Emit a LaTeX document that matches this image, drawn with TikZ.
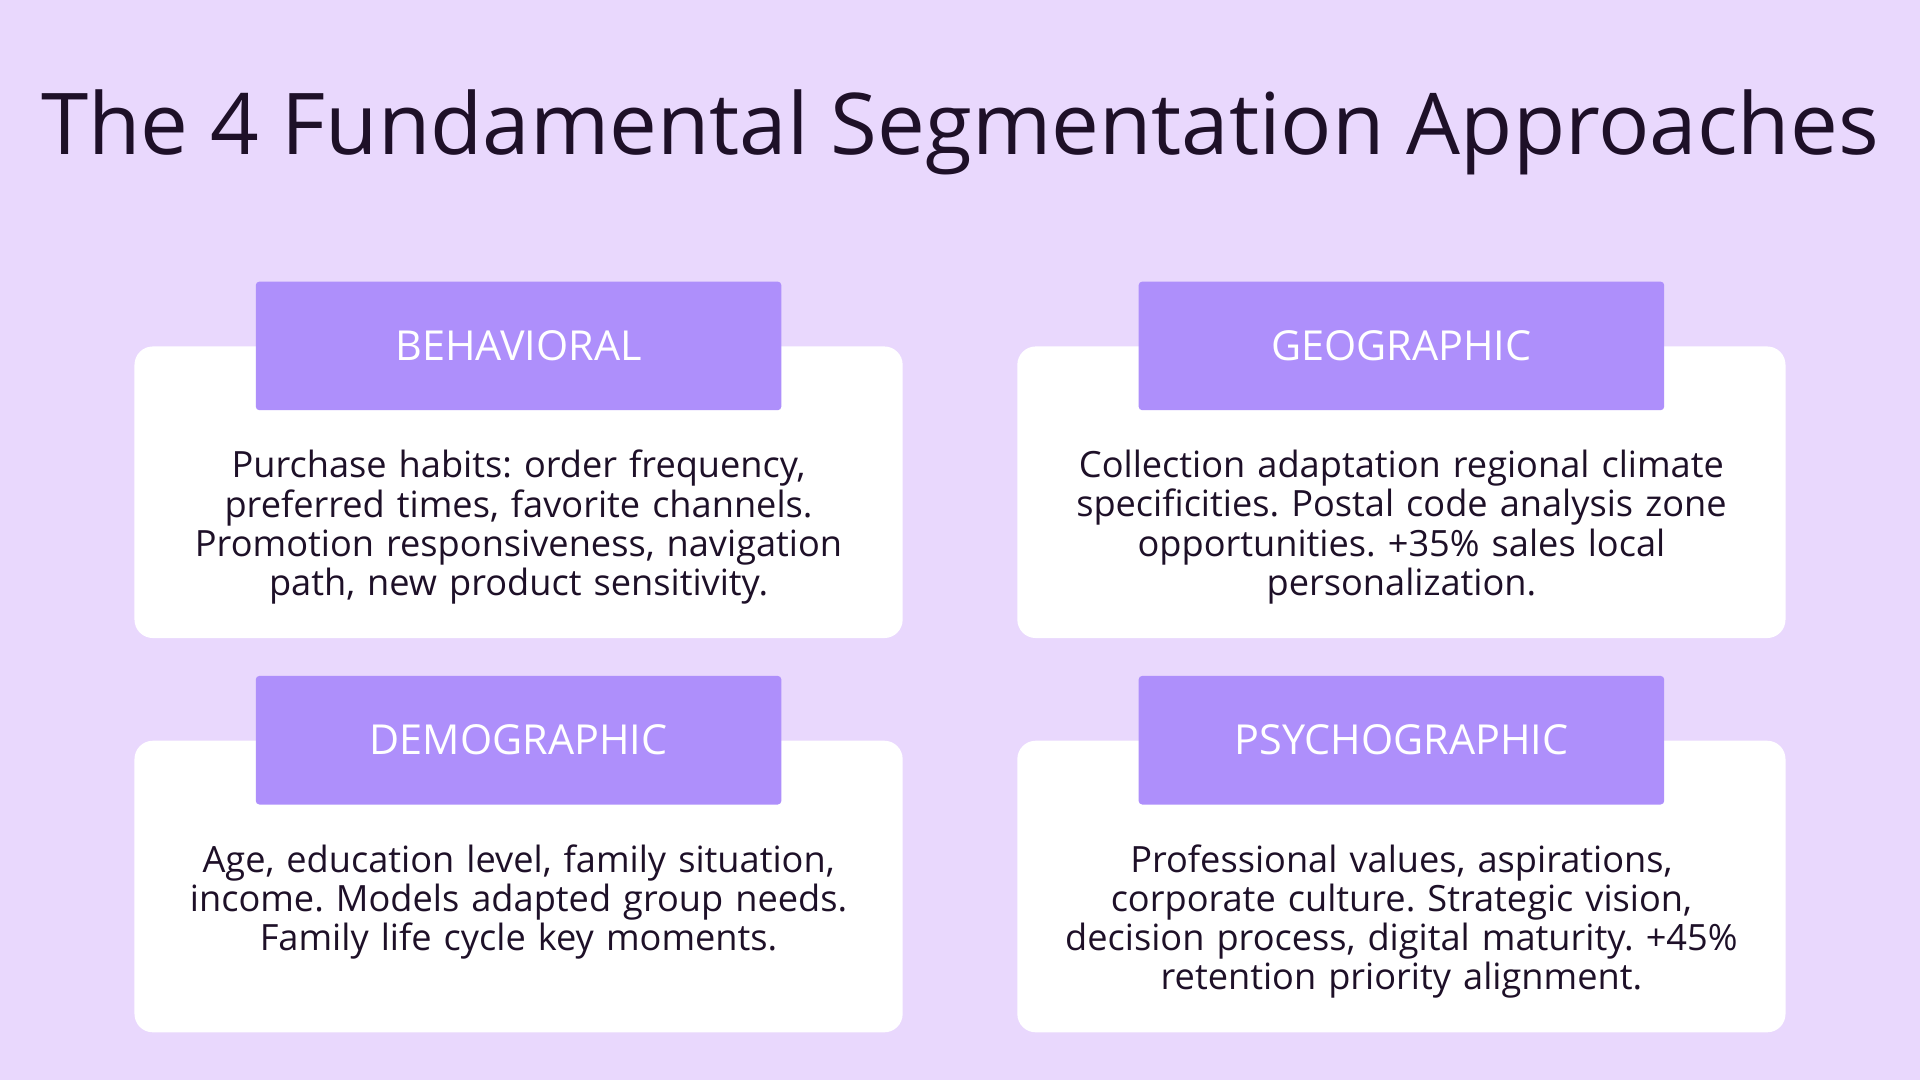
\documentclass[tikz,border=0pt]{standalone}
\usepackage{fontspec}
\setmainfont{Open Sans}
\usetikzlibrary{positioning}
\definecolor{mbg}{HTML}{E9D8FD}
\definecolor{mhead}{HTML}{AE8FFB}
\definecolor{mink}{HTML}{1E1028}
\frenchspacing
\tikzstyle{card} = [rectangle, rounded corners=0.15cm, minimum width=6.27cm, minimum height=2.38cm, fill=white, inner sep=0]
\tikzstyle{head} = [rectangle, rounded corners=0.03cm, minimum width=4.29cm, minimum height=1.05cm, fill=mhead, text=white, font=\fontsize{9.6pt}{11pt}\selectfont, inner sep=0]
\tikzstyle{body} = [text width=6.1cm, align=center, text=mink, font=\fontsize{8.4pt}{9.1pt}\selectfont, inner sep=0, anchor=north]
\begin{document}
\begin{tikzpicture}[x=0.01cm, y=-0.01cm]
  \fill[mbg] (0,0) rectangle (1568,882);
  \useasboundingbox (0,0) rectangle (1568,882);
  \node (title) [text=mink, font=\fontsize{19.8pt}{22pt}\selectfont] at (784,108) {The 4 Fundamental Segmentation Approaches};
  % top row
  \node (beh) [card] at (423.5,402) {};
  \node (behh) [head] at (423.5,282.5) {BEHAVIORAL};
  \node (beht) [body] at (423.5,367) {Purchase habits: order frequency,\\ preferred times, favorite channels.\\ Promotion responsiveness, navigation\\ path, new product sensitivity.};
  \node (geo) [card] at (1144.5,402) {};
  \node (geoh) [head] at (1144.5,282.5) {GEOGRAPHIC};
  \node (geot) [body] at (1144.5,367) {Collection adaptation regional climate\\ specificities. Postal code analysis zone\\ opportunities. +35\% sales local\\ personalization.};
  % bottom row
  \node (dem) [card] at (423.5,724) {};
  \node (demh) [head] at (423.5,604.5) {DEMOGRAPHIC};
  \node (demt) [body] at (423.5,689) {Age, education level, family situation,\\ income. Models adapted group needs.\\ Family life cycle key moments.};
  \node (psy) [card] at (1144.5,724) {};
  \node (psyh) [head] at (1144.5,604.5) {PSYCHOGRAPHIC};
  \node (psyt) [body] at (1144.5,689) {Professional values, aspirations,\\ corporate culture. Strategic vision,\\ decision process, digital maturity. +45\%\\ retention priority alignment.};
\end{tikzpicture}
\end{document}
